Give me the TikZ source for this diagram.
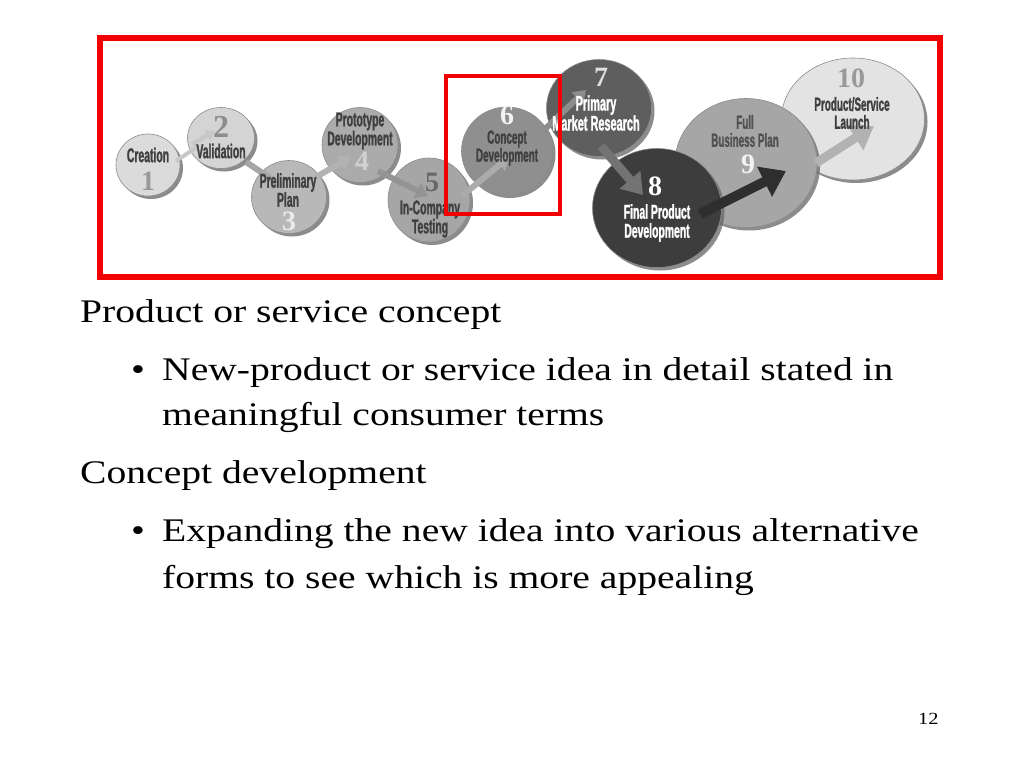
\documentclass[tikz,border=0pt]{standalone}
\usepackage{fontspec}
\usetikzlibrary{shapes.geometric,arrows.meta,shadows}
\newfontfamily\bodyfont[FakeStretch=1.2]{Liberation Serif}
\newfontfamily\condfont[FakeStretch=0.52,FakeBold=1.2]{Liberation Sans Bold}
\newfontfamily\numfont{Liberation Serif Bold}
\definecolor{redbox}{RGB}{240,0,0}
\begin{document}
\begin{tikzpicture}[x=1pt,y=-1pt,
  stepdisc/.style={ellipse, inner sep=0pt, draw=black!45, line width=0.6pt,
     drop shadow={shadow xshift=3pt, shadow yshift=-3pt, fill=black!60, opacity=0.75}},
  steptext/.style={align=center, text=black!75, inner sep=0pt},
  stepnum/.style={inner sep=0pt, font=\numfont\fontsize{28}{28}\selectfont},
  arr/.style={line width=6pt, -{Triangle[length=12pt,width=16pt]}},
  bodyline/.style={anchor=base west, inner sep=0pt, font=\bodyfont\fontsize{33}{36}\selectfont}]
\useasboundingbox (0,0) rectangle (1024,768);
\fill[white] (0,0) rectangle (1024,768);

% discs (back to front)
\node[stepdisc, fill=black!14, minimum width=64pt, minimum height=62pt] (s1) at (148,165) {};
\node[stepdisc, fill=black!17, minimum width=67pt, minimum height=61pt] (s2) at (221,138) {};
\node[stepdisc, fill=black!28, minimum width=75pt, minimum height=73pt] (s3) at (289,197) {};
\node[stepdisc, fill=black!33, minimum width=76pt, minimum height=75pt] (s4) at (360,145) {};
\node[stepdisc, fill=black!35, minimum width=82pt, minimum height=84pt] (s5) at (429,200) {};
\node[stepdisc, fill=black!44, minimum width=91pt, minimum height=88pt] (s6) at (507,151) {};
\node[stepdisc, fill=black!63, minimum width=105pt, minimum height=97pt] (s7) at (599,108) {};
\node[stepdisc, fill=black!11, minimum width=143pt, minimum height=122pt] (s10) at (853,119) {};
\node[stepdisc, fill=black!35, minimum width=142pt, minimum height=129pt] (s9) at (746,163) {};
\node[stepdisc, fill=black!76, minimum width=129pt, minimum height=119pt] (s8) at (657,208) {};

% arrow end points
\coordinate (a1s) at (176,161); \coordinate (a1m) at (197,147); \coordinate (a1n) at (194,143); \coordinate (a1e) at (215,131);
\coordinate (a2s) at (246,162); \coordinate (a2e) at (285,188);
\coordinate (a3s) at (316,177); \coordinate (a3e) at (351,157);
\coordinate (a4s) at (378,171); \coordinate (a4e) at (428,196);
\coordinate (a5s) at (462,196); \coordinate (a5e) at (509,157);
\coordinate (a6s) at (543,131); \coordinate (a6e) at (586,90);
\coordinate (a7s) at (601,146); \coordinate (a7e) at (643,195);
\coordinate (a8s) at (700,214); \coordinate (a8e) at (786,171);
\coordinate (a9s) at (816,163); \coordinate (a9e) at (874,126);

% connectors
\draw[line width=4pt, draw=black!22, -{Triangle[length=9pt,width=11pt]}, line join=miter]
  (a1s) -- (a1m) -- (a1n) -- (a1e);
\draw[arr, draw=black!35] (a2s) -- (a2e);
\draw[arr, draw=black!30] (a3s) -- (a3e);
\draw[arr, draw=black!42] (a4s) -- (a4e);
\draw[arr, draw=black!33] (a5s) -- (a5e);
\draw[arr, draw=black!45] (a6s) -- (a6e);
\draw[line width=9pt, draw=black!55, -{Triangle[length=20pt,width=26pt]}] (a7s) -- (a7e);
\draw[line width=10pt, draw=black!82, -{Triangle[length=24pt,width=32pt]}] (a8s) -- (a8e);
\draw[line width=9pt, draw=black!30, -{Triangle[length=22pt,width=28pt]}] (a9s) -- (a9e);

% texts
\node[steptext, font=\condfont\fontsize{20}{19}\selectfont] (t1) at (148,155) {Creation};
\node[steptext, font=\condfont\fontsize{20}{19}\selectfont] (t2) at (221,151) {Validation};
\node[steptext, font=\condfont\fontsize{20}{19}\selectfont] (t3) at (288,190) {Preliminary\\Plan};
\node[steptext, font=\condfont\fontsize{20}{19}\selectfont] (t4) at (360,131) {Prototype\\Development};
\node[steptext, font=\condfont\fontsize{20}{19}\selectfont] (t5) at (430,219) {In-Company\\Testing};
\node[steptext, font=\condfont\fontsize{19}{18}\selectfont] (t6) at (507,148) {Concept\\Development};
\node[steptext, text=white, font=\condfont\fontsize{21}{20}\selectfont] (t7) at (596,113) {Primary\\Market Research};
\node[steptext, text=white, font=\condfont\fontsize{20}{19}\selectfont] (t8) at (657,223) {Final Product\\Development};
\node[steptext, text=black!68, font=\condfont\fontsize{19}{18}\selectfont] (t9) at (745,131) {Full\\Business Plan};
\node[steptext, font=\condfont\fontsize{19}{18}\selectfont] (t10) at (852,113) {Product/Service\\Launch};

% numbers
\node[stepnum, text=black!40] (n1) at (148,181) {1};
\node[stepnum, text=black!45, font=\numfont\fontsize{32}{32}\selectfont] (n2) at (221,127) {2};
\node[stepnum, text=black!8] (n3) at (289,221) {3};
\node[stepnum, text=black!18] (n4) at (362,161) {4};
\node[stepnum, text=black!60] (n5) at (432,182) {5};
\node[stepnum, text=black!5] (n6) at (507,115) {6};
\node[stepnum, text=black!12] (n7) at (601,77) {7};
\node[stepnum, text=white] (n8) at (655,186) {8};
\node[stepnum, text=black!5] (n9) at (748,164) {9};
\node[stepnum, text=black!40] (n10) at (851,78) {10};

% frames
\draw[redbox, line width=4pt] (446,76) rectangle (560,214);
\draw[redbox, line width=6pt] (100,38) rectangle (940,277);

% body text
\node[bodyline] (l1) at (80,322) {Product or service concept};
\node[bodyline] (b1) at (131,380) {•};
\node[bodyline] (l2) at (162,380) {New-product or service idea in detail stated in};
\node[bodyline] (l3) at (162,425) {meaningful consumer terms};
\node[bodyline] (l4) at (80,483) {Concept development};
\node[bodyline] (b2) at (131,541) {•};
\node[bodyline] (l5) at (162,541) {Expanding the new idea into various alternative};
\node[bodyline] (l6) at (162,588) {forms to see which is more appealing};
\node[anchor=base west, inner sep=0pt, font=\bodyfont\fontsize{17}{20}\selectfont] (pg) at (918,724) {12};
\end{tikzpicture}
\end{document}
